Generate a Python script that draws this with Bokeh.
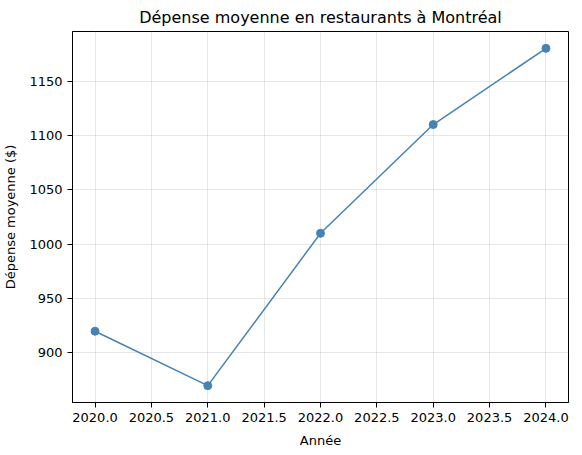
from bokeh.plotting import figure
from bokeh.models import FixedTicker, NumeralTickFormatter, Range1d, ColumnDataSource
from bokeh.embed import file_html
from bokeh.resources import INLINE

annees = [2020, 2021, 2022, 2023, 2024]
depenses = [920, 870, 1010, 1110, 1180]
x_ticks = [2020.0, 2020.5, 2021.0, 2021.5, 2022.0, 2022.5, 2023.0, 2023.5, 2024.0]
y_ticks = [900, 950, 1000, 1050, 1100, 1150]

FONT = "DejaVu Sans"
COLOR = "#4682b4"

src = ColumnDataSource(dict(x=annees, y=depenses))

p = figure(frame_width=496, frame_height=371, output_backend="svg", toolbar_location=None,
           x_range=Range1d(2019.8, 2024.2), y_range=Range1d(854.5, 1195.5),
           title="Dépense moyenne en restaurants à Montréal")
p.min_border_left = 68
p.min_border_right = 2
p.min_border_top = 24
p.min_border_bottom = 45

p.title.text_font = FONT
p.title.text_font_size = "16px"
p.title.text_font_style = "normal"
p.title.align = "center"
p.title.text_color = "black"

p.line("x", "y", source=src, line_color=COLOR, line_width=1.5)
p.scatter("x", "y", source=src, size=8, fill_color=COLOR, line_color=COLOR)

p.xaxis.ticker = FixedTicker(ticks=x_ticks)
p.xaxis.formatter = NumeralTickFormatter(format="0.0")
p.yaxis.ticker = FixedTicker(ticks=y_ticks)
p.xaxis.axis_label = "Année"
p.yaxis.axis_label = "Dépense moyenne ($)"

for ax in (p.xaxis, p.yaxis):
    ax.axis_label_text_font = FONT
    ax.axis_label_text_font_size = "13px"
    ax.axis_label_text_font_style = "normal"
    ax.axis_label_text_color = "black"
    ax.major_label_text_font = FONT
    ax.major_label_text_font_size = "13px"
    ax.major_label_text_color = "black"
    ax.axis_line_color = "black"
    ax.major_tick_line_color = "black"
    ax.major_tick_out = 5
    ax.major_tick_in = 0
    ax.minor_tick_line_color = None
    ax.major_label_standoff = 5
    ax.axis_label_standoff = 8

p.yaxis.major_label_orientation = "horizontal"

p.outline_line_color = "black"
p.outline_line_alpha = 1
p.outline_line_width = 1

p.xgrid.grid_line_color = "#b0b0b0"
p.ygrid.grid_line_color = "#b0b0b0"
p.xgrid.grid_line_alpha = 0.3
p.ygrid.grid_line_alpha = 0.3

p.background_fill_color = "white"
p.border_fill_color = "white"

open("out.html", "w").write(file_html(p, INLINE))
